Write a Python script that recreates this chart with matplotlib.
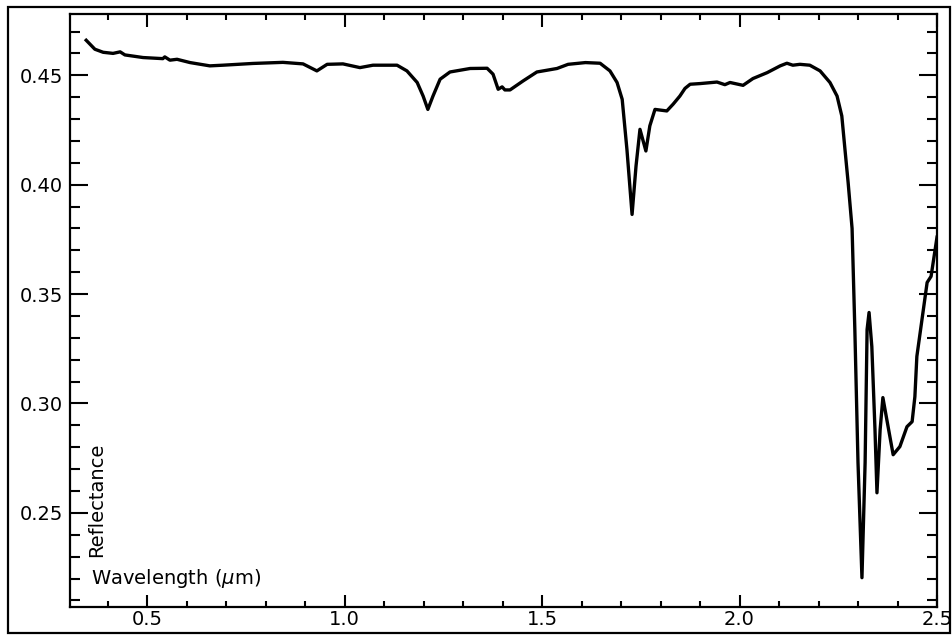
import matplotlib
matplotlib.use("Agg")
import matplotlib.pyplot as plt
from matplotlib.patches import Rectangle
from matplotlib.ticker import MultipleLocator, FormatStrFormatter

wavelength = [0.346, 0.368, 0.389, 0.414, 0.432, 0.444, 0.490, 0.540, 0.545, 0.558, 0.576,
              0.609, 0.659, 0.692, 0.768, 0.844, 0.895, 0.930, 0.956, 0.996, 1.039, 1.072,
              1.133, 1.158, 1.184, 1.199, 1.211, 1.224, 1.242, 1.267, 1.318, 1.361, 1.376,
              1.389, 1.399, 1.406, 1.419, 1.452, 1.487, 1.538, 1.566, 1.610, 1.647, 1.672,
              1.690, 1.703, 1.715, 1.728, 1.738, 1.748, 1.763, 1.773, 1.786, 1.816, 1.832,
              1.849, 1.862, 1.875, 1.900, 1.943, 1.963, 1.976, 2.009, 2.034, 2.070, 2.103,
              2.120, 2.135, 2.153, 2.178, 2.204, 2.229, 2.247, 2.259, 2.267, 2.275, 2.285,
              2.292, 2.300, 2.310, 2.318, 2.323, 2.328, 2.335, 2.343, 2.348, 2.356, 2.363,
              2.373, 2.389, 2.406, 2.424, 2.437, 2.444, 2.449, 2.462, 2.475, 2.485, 2.500]
reflectance = [0.4660, 0.4619, 0.4605, 0.4600, 0.4607, 0.4593, 0.4581, 0.4576, 0.4584, 0.4569, 0.4573,
               0.4558, 0.4543, 0.4546, 0.4554, 0.4559, 0.4552, 0.4520, 0.4550, 0.4552, 0.4535, 0.4546,
               0.4546, 0.4520, 0.4467, 0.4405, 0.4344, 0.4405, 0.4482, 0.4515, 0.4531, 0.4532, 0.4505,
               0.4436, 0.4447, 0.4433, 0.4433, 0.4474, 0.4515, 0.4531, 0.4550, 0.4558, 0.4555, 0.4520,
               0.4467, 0.4390, 0.4161, 0.3864, 0.4085, 0.4253, 0.4154, 0.4269, 0.4344, 0.4337, 0.4368,
               0.4405, 0.4440, 0.4459, 0.4462, 0.4469, 0.4457, 0.4467, 0.4454, 0.4485, 0.4512, 0.4543,
               0.4555, 0.4546, 0.4550, 0.4546, 0.4520, 0.4467, 0.4405, 0.4314, 0.4161, 0.4010, 0.3800,
               0.3338, 0.2730, 0.2204, 0.2730, 0.3338, 0.3416, 0.3260, 0.2880, 0.2592, 0.2880, 0.3027,
               0.2926, 0.2766, 0.2803, 0.2894, 0.2917, 0.3031, 0.3215, 0.3384, 0.3553, 0.3581, 0.3760]

x_label = "Wavelength ($\\mu$m)"
y_label = "Reflectance"

W, H = 952, 635
fig = plt.figure(figsize=(9.52, 6.35), dpi=100)
ax = fig.add_axes([70/W, 1-607/H, (937-70)/W, (607-14)/H])

ax.plot(wavelength, reflectance, color="black", lw=2.4, solid_joinstyle="round")

ax.set_xlim(0.305, 2.5)
ax.set_ylim(0.207, 0.478)

ax.xaxis.set_major_locator(MultipleLocator(0.5))
ax.xaxis.set_minor_locator(MultipleLocator(0.1))
ax.yaxis.set_major_locator(MultipleLocator(0.05))
ax.yaxis.set_minor_locator(MultipleLocator(0.01))
ax.xaxis.set_major_formatter(FormatStrFormatter("%.1f"))
ax.yaxis.set_major_formatter(FormatStrFormatter("%.2f"))

ax.tick_params(axis="x", which="major", direction="in", length=9, width=1.5,
               top=True, bottom=True, labelsize=14, pad=2)
ax.tick_params(axis="x", which="minor", direction="in", length=4.5, width=1.5,
               top=True, bottom=True)
ax.tick_params(axis="y", which="major", direction="in", length=13, width=1.5,
               left=True, right=True, labelsize=14, pad=5)
ax.tick_params(axis="y", which="minor", direction="in", length=7, width=1.5,
               left=True, right=True)
for s in ax.spines.values():
    s.set_linewidth(1.6)

fig.text(91/W, 1-584/H, x_label, fontsize=14, ha="left", va="baseline")
fig.text(97/W, 1-500/H, y_label, rotation=90, fontsize=14, ha="center", va="center")

fig.patches.append(Rectangle((8/W, 2/H), 942/W, 626/H, transform=fig.transFigure,
                             fill=False, edgecolor="black", linewidth=1.6))

fig.savefig("out.png", dpi=100)
